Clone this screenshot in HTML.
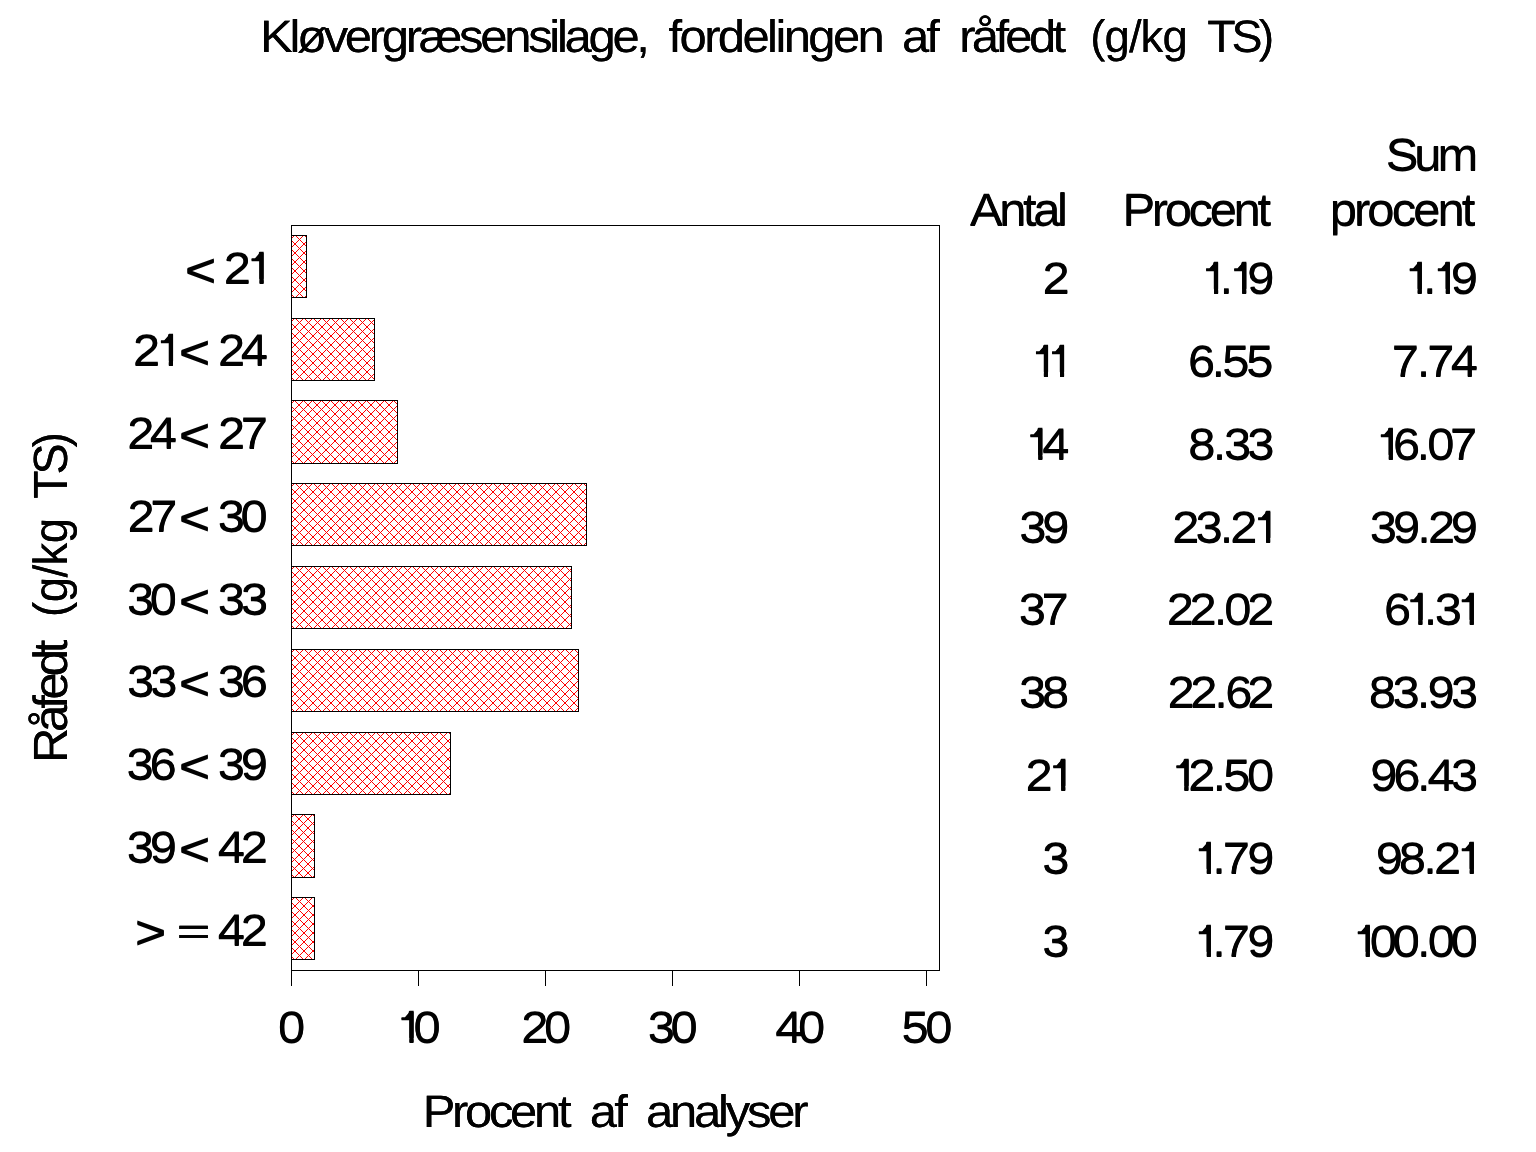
<!DOCTYPE html>
<html lang="da">
<head>
<meta charset="utf-8">
<title>Kløvergræsensilage, fordelingen af råfedt (g/kg TS)</title>
<style>
html,body{margin:0;padding:0;background:#fff;}
body{width:1536px;height:1152px;overflow:hidden;}
svg{display:block;font-family:"Liberation Sans",sans-serif;}
text{fill:#000;font-kerning:none;font-variant-ligatures:none;text-rendering:geometricPrecision;}
.ln{stroke:#000;stroke-width:1;fill:none;shape-rendering:crispEdges;}
.bar{stroke:#000;stroke-width:1;fill:none;shape-rendering:crispEdges;}
</style>
</head>
<body>
<svg width="1536" height="1152" viewBox="0 0 1536 1152">
<defs>
<clipPath id="c1"><rect x="10.92" y="-36.32" width="5.01" height="31.63"/><rect x="11.52" y="-4.79" width="3.81" height="5.09"/></clipPath>
<path id="fl" d="M-7.8,-25.03 L-4.4,-25.03 L0.9,-31.23 L1.2,-31.23 L1.2,-22.83 L-7.8,-22.83Z"/>
<pattern id="hA" patternUnits="userSpaceOnUse" x="-.5" y="-.5" width="9" height="9"><path d="M0,3h1v1h-1zM1,2h1v1h-1zM2,1h1v1h-1zM3,0h1v1h-1zM4,8h1v1h-1zM5,7h1v1h-1zM6,6h1v1h-1zM7,5h1v1h-1zM8,4h1v1h-1z" fill="#f00" shape-rendering="crispEdges"/></pattern>
<pattern id="hB" patternUnits="userSpaceOnUse" x="-.5" y="-.5" width="9" height="9"><path d="M0,6h1v1h-1zM1,7h1v1h-1zM2,8h1v1h-1zM3,0h1v1h-1zM4,1h1v1h-1zM5,2h1v1h-1zM6,3h1v1h-1zM7,4h1v1h-1zM8,5h1v1h-1z" fill="#f00" shape-rendering="crispEdges"/></pattern>
</defs>
<rect width="1536" height="1152" fill="#fff"/>
<g id="frame">
<path class="ln" d="M291.5,986V225.5H939.5V970.5"/>
<path class="ln" d="M291,970.5H940"/>
<path class="ln" d="M418.5,970.5v15.5M545.5,970.5v15.5M672.5,970.5v15.5M799.5,970.5v15.5M926.5,970.5v15.5"/>
</g>
<g id="bars">
<g transform="translate(291.5,235.5)"><rect width="15" height="62" fill="#fff"/><rect width="15" height="62" fill="url(#hA)"/></g>
<g transform="translate(291.5,297.5)"><rect y="-62" width="15" height="62" fill="url(#hB)"/></g>
<rect class="bar" x="291.5" y="235.5" width="15" height="62"/>
<g transform="translate(291.5,318.5)"><rect width="83" height="62" fill="#fff"/><rect width="83" height="62" fill="url(#hA)"/></g>
<g transform="translate(291.5,380.5)"><rect y="-62" width="83" height="62" fill="url(#hB)"/></g>
<rect class="bar" x="291.5" y="318.5" width="83" height="62"/>
<g transform="translate(291.5,400.5)"><rect width="106" height="63" fill="#fff"/><rect width="106" height="63" fill="url(#hA)"/></g>
<g transform="translate(291.5,463.5)"><rect y="-63" width="106" height="63" fill="url(#hB)"/></g>
<rect class="bar" x="291.5" y="400.5" width="106" height="63"/>
<g transform="translate(291.5,483.5)"><rect width="295" height="62" fill="#fff"/><rect width="295" height="62" fill="url(#hA)"/></g>
<g transform="translate(291.5,545.5)"><rect y="-62" width="295" height="62" fill="url(#hB)"/></g>
<rect class="bar" x="291.5" y="483.5" width="295" height="62"/>
<g transform="translate(291.5,566.5)"><rect width="280" height="62" fill="#fff"/><rect width="280" height="62" fill="url(#hA)"/></g>
<g transform="translate(291.5,628.5)"><rect y="-62" width="280" height="62" fill="url(#hB)"/></g>
<rect class="bar" x="291.5" y="566.5" width="280" height="62"/>
<g transform="translate(291.5,649.5)"><rect width="287" height="62" fill="#fff"/><rect width="287" height="62" fill="url(#hA)"/></g>
<g transform="translate(291.5,711.5)"><rect y="-62" width="287" height="62" fill="url(#hB)"/></g>
<rect class="bar" x="291.5" y="649.5" width="287" height="62"/>
<g transform="translate(291.5,732.5)"><rect width="159" height="62" fill="#fff"/><rect width="159" height="62" fill="url(#hA)"/></g>
<g transform="translate(291.5,794.5)"><rect y="-62" width="159" height="62" fill="url(#hB)"/></g>
<rect class="bar" x="291.5" y="732.5" width="159" height="62"/>
<g transform="translate(291.5,814.5)"><rect width="23" height="63" fill="#fff"/><rect width="23" height="63" fill="url(#hA)"/></g>
<g transform="translate(291.5,877.5)"><rect y="-63" width="23" height="63" fill="url(#hB)"/></g>
<rect class="bar" x="291.5" y="814.5" width="23" height="63"/>
<g transform="translate(291.5,897.5)"><rect width="23" height="62" fill="#fff"/><rect width="23" height="62" fill="url(#hA)"/></g>
<g transform="translate(291.5,959.5)"><rect y="-62" width="23" height="62" fill="url(#hB)"/></g>
<rect class="bar" x="291.5" y="897.5" width="23" height="62"/>
</g>
<g opacity=".999">
<g id="t" transform="translate(0,-0.3)">
<g id="title">
<text transform="matrix(1.0769 0 0 1 0 51.8)" font-size="45.5" x="241.5 268.79 275.83 300.56 320.24 342.48 354.57 376.8 388.89 426.28 445.97 468.21 490.44 510.13 517.17 524.21 546.45 568.69 590.93">Kløvergræsensilage,</text>
<text transform="matrix(1.0769 0 0 1 0 51.8)" font-size="45.5" x="620.76 630.97 653.86 666.59 689.47 712.35 720.04 727.72 750.61 773.49 796.37">fordelingen</text>
<text transform="matrix(1.0769 0 0 1 0 51.8)" font-size="45.5" x="837.5 860.15">af</text>
<text transform="matrix(1.0769 0 0 1 0 51.8)" font-size="45.5" x="890.73 902.47 924.36 933.58 955.47 977.36">råfedt</text>
<text transform="matrix(1 0 0 1 0 51.8)" font-size="45.5" x="1090.28 1104.51 1128.89 1140.6 1162.43">(g/kg</text>
<text transform="matrix(1.022 0 0 1 0 51.8)" font-size="45.5" x="1181.2 1205.11 1231.58">TS)</text>
</g>
<g id="xticks">
<text transform="matrix(1.1086 0 0 1 0 1042.7)" font-size="44.2" x="250.83" y="-0.43">0</text>
<text clip-path="url(#c1)" transform="matrix(1.0793 0 0 1 397 1042.7)" font-size="45.4">1</text><use href="#fl" x="409.32" y="1042.7"/>
<text transform="matrix(1.1086 0 0 1 0 1042.7)" font-size="44.2" x="372.93" y="-0.43">0</text>
<text transform="matrix(1.1086 0 0 1 0 1042.7)" font-size="44.2" x="470.28 490.75" y="-0.43 -0.43">20</text>
<text transform="matrix(1.1086 0 0 1 0 1042.7)" font-size="44.2" x="584.34 604.91" y="-0.43 -0.43">30</text>
<text transform="matrix(1.1086 0 0 1 0 1042.7)" font-size="44.2" x="699.29 719.94" y="0 -0.43">40</text>
<text transform="matrix(1.1086 0 0 1 0 1042.7)" font-size="44.2" x="813.14 834.7" y="-0.43 -0.43">50</text>
</g>
<g id="xlabel">
<text transform="matrix(1.0769 0 0 1 0 1126.8)" font-size="45.5" x="392.49 419.75 431.82 454.04 473.7 495.92 518.14">Procent</text>
<text transform="matrix(1.0769 0 0 1 0 1126.8)" font-size="45.5" x="547.69 570.34">af</text>
<text transform="matrix(1.0769 0 0 1 0 1126.8)" font-size="45.5" x="599.87 622.17 644.46 666.75 673.85 693.58 713.32 735.61">analyser</text>
</g>
<g id="cats">
<text transform="matrix(1.1456 0 0 1 0 286.2)" font-size="47.4" x="161.25">&lt;</text>
<text transform="matrix(1.1086 0 0 1 0 283.7)" font-size="44.2" x="201.9" y="-0.43">2</text>
<text clip-path="url(#c1)" transform="matrix(1.0793 0 0 1 247.1 283.7)" font-size="45.4">1</text><use href="#fl" x="259.42" y="283.7"/>
<text transform="matrix(1.1086 0 0 1 0 365.7)" font-size="44.2" x="120.08" y="-0.43">2</text>
<text clip-path="url(#c1)" transform="matrix(1.0793 0 0 1 156.4 365.7)" font-size="45.4">1</text><use href="#fl" x="168.72" y="365.7"/>
<text transform="matrix(1.1456 0 0 1 0 368.2)" font-size="47.4" x="156.1">&lt;</text>
<text transform="matrix(1.1086 0 0 1 0 365.7)" font-size="44.2" x="196.67 217.15" y="-0.43 0">24</text>
<text transform="matrix(1.1086 0 0 1 0 448.7)" font-size="44.2" x="114.72 135.2" y="-0.43 0">24</text>
<text transform="matrix(1.1456 0 0 1 0 451.2)" font-size="47.4" x="156.1">&lt;</text>
<text transform="matrix(1.1086 0 0 1 0 448.7)" font-size="44.2" x="196.67 217.08" y="-0.43 0">27</text>
<text transform="matrix(1.1086 0 0 1 0 531.7)" font-size="44.2" x="115.08 135.49" y="-0.43 0">27</text>
<text transform="matrix(1.1456 0 0 1 0 534.2)" font-size="47.4" x="156.1">&lt;</text>
<text transform="matrix(1.1086 0 0 1 0 531.7)" font-size="44.2" x="196.39 216.96" y="-0.43 -0.43">30</text>
<text transform="matrix(1.1086 0 0 1 0 614.7)" font-size="44.2" x="114.53 135.1" y="-0.43 -0.43">30</text>
<text transform="matrix(1.1456 0 0 1 0 617.2)" font-size="47.4" x="156.1">&lt;</text>
<text transform="matrix(1.1086 0 0 1 0 614.7)" font-size="44.2" x="196.39 217.41" y="-0.43 -0.43">33</text>
<text transform="matrix(1.1086 0 0 1 0 696.7)" font-size="44.2" x="114.49 135.5" y="-0.43 -0.43">33</text>
<text transform="matrix(1.1456 0 0 1 0 699.2)" font-size="47.4" x="156.1">&lt;</text>
<text transform="matrix(1.1086 0 0 1 0 696.7)" font-size="44.2" x="196.39 217.17" y="-0.43 -0.43">36</text>
<text transform="matrix(1.1086 0 0 1 0 779.7)" font-size="44.2" x="114.17 134.95" y="-0.43 -0.43">36</text>
<text transform="matrix(1.1456 0 0 1 0 782.2)" font-size="47.4" x="156.1">&lt;</text>
<text transform="matrix(1.1086 0 0 1 0 779.7)" font-size="44.2" x="196.39 217.2" y="-0.43 -0.43">39</text>
<text transform="matrix(1.1086 0 0 1 0 862.7)" font-size="44.2" x="114.39 135.2" y="-0.43 -0.43">39</text>
<text transform="matrix(1.1456 0 0 1 0 865.2)" font-size="47.4" x="156.1">&lt;</text>
<text transform="matrix(1.1086 0 0 1 0 862.7)" font-size="44.2" x="196.45 217.14" y="0 -0.43">42</text>
<text transform="matrix(1.1456 0 0 1 0 948.2)" font-size="47.4" x="117.52">&gt;</text>
<text transform="matrix(1.2909 0 0 0.8318 176.93 943.95)" font-size="44" stroke="#000" stroke-width=".6">=</text>
<text transform="matrix(1.1086 0 0 1 0 945.7)" font-size="44.2" x="196.45 217.14" y="0 -0.43">42</text>
</g>
<g id="table">
<text transform="matrix(1.0769 0 0 1 0 225.7)" font-size="45.5" x="900.63 927.79 949.91 959.37 981.49">Antal</text>
<text transform="matrix(1.0769 0 0 1 0 225.7)" font-size="45.5" x="1042.3 1069.51 1081.52 1103.69 1123.3 1145.46 1167.63">Procent</text>
<text transform="matrix(1.0769 0 0 1 0 170.6)" font-size="45.5" x="1286.79 1313.33 1334.83">Sum</text>
<text transform="matrix(1.0769 0 0 1 0 225.7)" font-size="45.5" x="1234.76 1257.32 1269.73 1292.29 1312.3 1334.87 1357.43">procent</text>
<text transform="matrix(1.1086 0 0 1 0 293.7)" font-size="44.2" x="940.35" y="-0.43">2</text>
<text clip-path="url(#c1)" transform="matrix(1.0793 0 0 1 1201.6 293.7)" font-size="45.4">1</text><use href="#fl" x="1213.92" y="293.7"/>
<text transform="matrix(1.1086 0 0 1 0 293.7)" font-size="44.2" x="1099.94">.</text>
<text clip-path="url(#c1)" transform="matrix(1.0793 0 0 1 1229.7 293.7)" font-size="45.4">1</text><use href="#fl" x="1242.02" y="293.7"/>
<text transform="matrix(1.1086 0 0 1 0 293.7)" font-size="44.2" x="1125.01" y="-0.43">9</text>
<text clip-path="url(#c1)" transform="matrix(1.0793 0 0 1 1405.25 293.7)" font-size="45.4">1</text><use href="#fl" x="1417.57" y="293.7"/>
<text transform="matrix(1.1086 0 0 1 0 293.7)" font-size="44.2" x="1283.64">.</text>
<text clip-path="url(#c1)" transform="matrix(1.0793 0 0 1 1433.35 293.7)" font-size="45.4">1</text><use href="#fl" x="1445.67" y="293.7"/>
<text transform="matrix(1.1086 0 0 1 0 293.7)" font-size="44.2" x="1308.71" y="-0.43">9</text>
<text clip-path="url(#c1)" transform="matrix(1.0793 0 0 1 1031.45 376.7)" font-size="45.4">1</text><use href="#fl" x="1043.77" y="376.7"/>
<text clip-path="url(#c1)" transform="matrix(1.0793 0 0 1 1047.55 376.7)" font-size="45.4">1</text><use href="#fl" x="1059.87" y="376.7"/>
<text transform="matrix(1.1086 0 0 1 0 376.7)" font-size="44.2" x="1071.54 1092.77 1102.45 1124.1" y="-0.43 0 -0.43 -0.43">6.55</text>
<text transform="matrix(1.1086 0 0 1 0 376.7)" font-size="44.2" x="1255.33 1277.87 1287.39 1308.71">7.74</text>
<text clip-path="url(#c1)" transform="matrix(1.0793 0 0 1 1025.85 459.7)" font-size="45.4">1</text><use href="#fl" x="1038.17" y="459.7"/>
<text transform="matrix(1.1086 0 0 1 0 459.7)" font-size="44.2" x="940.18">4</text>
<text transform="matrix(1.1086 0 0 1 0 459.7)" font-size="44.2" x="1071.87 1094.03 1104.07 1125.09" y="-0.43 0 -0.43 -0.43">8.33</text>
<text clip-path="url(#c1)" transform="matrix(1.0793 0 0 1 1376.35 459.7)" font-size="45.4">1</text><use href="#fl" x="1388.67" y="459.7"/>
<text transform="matrix(1.1086 0 0 1 0 459.7)" font-size="44.2" x="1256.55 1277.78 1287.37 1308.05" y="-0.43 0 -0.43 0">6.07</text>
<text transform="matrix(1.1086 0 0 1 0 542.7)" font-size="44.2" x="919.38 940.18" y="-0.43 -0.43">39</text>
<text transform="matrix(1.1086 0 0 1 0 542.7)" font-size="44.2" x="1057.48 1078.41 1100.21 1109.85" y="-0.43 -0.43 0 -0.43">23.2</text>
<text clip-path="url(#c1)" transform="matrix(1.0793 0 0 1 1253.65 542.7)" font-size="45.4">1</text><use href="#fl" x="1265.97" y="542.7"/>
<text transform="matrix(1.1086 0 0 1 0 542.7)" font-size="44.2" x="1235.68 1256.49 1278.37 1288 1308.71" y="-0.43 -0.43 0 -0.43 -0.43">39.29</text>
<text transform="matrix(1.1086 0 0 1 0 624.7)" font-size="44.2" x="919.02 939.52" y="-0.43 0">37</text>
<text transform="matrix(1.1086 0 0 1 0 624.7)" font-size="44.2" x="1052.57 1073.09 1094.8 1104.39 1125.18" y="-0.43 -0.43 0 -0.43 -0.43">22.02</text>
<text transform="matrix(1.1086 0 0 1 0 624.7)" font-size="44.2" x="1248.48" y="-0.43">6</text>
<text clip-path="url(#c1)" transform="matrix(1.0793 0 0 1 1405.9 624.7)" font-size="45.4">1</text><use href="#fl" x="1418.22" y="624.7"/>
<text transform="matrix(1.1086 0 0 1 0 624.7)" font-size="44.2" x="1284.23 1294.26" y="0 -0.43">.3</text>
<text clip-path="url(#c1)" transform="matrix(1.0793 0 0 1 1457.3 624.7)" font-size="45.4">1</text><use href="#fl" x="1469.62" y="624.7"/>
<text transform="matrix(1.1086 0 0 1 0 707.7)" font-size="44.2" x="919.15 939.9" y="-0.43 -0.43">38</text>
<text transform="matrix(1.1086 0 0 1 0 707.7)" font-size="44.2" x="1053.11 1073.63 1095.34 1105.14 1125.18" y="-0.43 -0.43 0 -0.43 -0.43">22.62</text>
<text transform="matrix(1.1086 0 0 1 0 707.7)" font-size="44.2" x="1234.69 1256.06 1277.87 1287.7 1308.79" y="-0.43 -0.43 0 -0.43 -0.43">83.93</text>
<text transform="matrix(1.1086 0 0 1 0 790.7)" font-size="44.2" x="925.02" y="-0.43">2</text>
<text clip-path="url(#c1)" transform="matrix(1.0793 0 0 1 1048.75 790.7)" font-size="45.4">1</text><use href="#fl" x="1061.07" y="790.7"/>
<text clip-path="url(#c1)" transform="matrix(1.0793 0 0 1 1171.9 790.7)" font-size="45.4">1</text><use href="#fl" x="1184.22" y="790.7"/>
<text transform="matrix(1.1086 0 0 1 0 790.7)" font-size="44.2" x="1071.96 1093.67 1103.35 1124.91" y="-0.43 0 -0.43 -0.43">2.50</text>
<text transform="matrix(1.1086 0 0 1 0 790.7)" font-size="44.2" x="1236.01 1256.86 1278.1 1287.69 1308.79" y="-0.43 -0.43 0 0 -0.43">96.43</text>
<text transform="matrix(1.1086 0 0 1 0 873.7)" font-size="44.2" x="940.26" y="-0.43">3</text>
<text clip-path="url(#c1)" transform="matrix(1.0793 0 0 1 1194.35 873.7)" font-size="45.4">1</text><use href="#fl" x="1206.67" y="873.7"/>
<text transform="matrix(1.1086 0 0 1 0 873.7)" font-size="44.2" x="1093.4 1102.93 1125.01" y="0 0 -0.43">.79</text>
<text transform="matrix(1.1086 0 0 1 0 873.7)" font-size="44.2" x="1240.93 1261.75 1283.91 1293.55" y="-0.43 -0.43 0 -0.43">98.2</text>
<text clip-path="url(#c1)" transform="matrix(1.0793 0 0 1 1457.3 873.7)" font-size="45.4">1</text><use href="#fl" x="1469.62" y="873.7"/>
<text transform="matrix(1.1086 0 0 1 0 956.7)" font-size="44.2" x="940.26" y="-0.43">3</text>
<text clip-path="url(#c1)" transform="matrix(1.0793 0 0 1 1194.35 956.7)" font-size="45.4">1</text><use href="#fl" x="1206.67" y="956.7"/>
<text transform="matrix(1.1086 0 0 1 0 956.7)" font-size="44.2" x="1093.4 1102.93 1125.01" y="0 0 -0.43">.79</text>
<text clip-path="url(#c1)" transform="matrix(1.0793 0 0 1 1353.3 956.7)" font-size="45.4">1</text><use href="#fl" x="1365.62" y="956.7"/>
<text transform="matrix(1.1086 0 0 1 0 956.7)" font-size="44.2" x="1235.55 1256.29 1278.28 1287.87 1308.61" y="-0.43 -0.43 0 -0.43 -0.43">00.00</text>
</g>
</g>
<use href="#t" y="0.6"/>
<g id="ty" transform="translate(-0.3,0)">
<g id="ylabel" transform="translate(66.8,0) rotate(-90)">
<text transform="matrix(1.0208 0 0 1 0 0)" font-size="48" x="-747.55 -716.97 -694.37 -685.13 -662.53 -639.92">Råfedt</text>
<text transform="matrix(0.9479 0 0 1 0 0)" font-size="48" x="-650.92 -635.47 -609.3 -596.49 -573.02">(g/kg</text>
<text transform="matrix(0.9688 0 0 1 0 0)" font-size="48" x="-514.83 -489.68 -461.83">TS)</text>
</g>
</g>
<use href="#ty" x="0.6"/>
</g>
</svg>
</body>
</html>
